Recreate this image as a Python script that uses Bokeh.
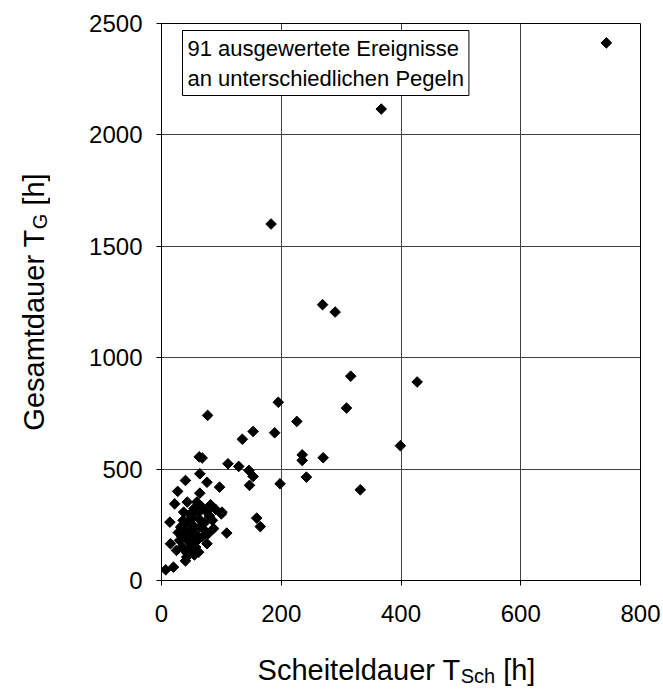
import numpy as np
from bokeh.plotting import figure
from bokeh.models import Range1d, Label
from bokeh.layouts import column, row
from bokeh.embed import file_html
from bokeh.resources import INLINE

# ---- data ----
t_sch = [743, 367, 183, 269, 290, 316, 427, 195, 309, 77,
         226, 153, 189, 135, 399, 235, 235, 270, 63, 68,
         111, 129, 146, 153, 242, 147, 198, 332, 64, 40,
         76, 97, 27, 64, 100, 109, 159, 165, 15, 7,
         20, 22, 43, 59, 82, 68, 101, 54, 37, 14,
         76, 40, 62, 87, 48, 30, 35, 42, 45, 50,
         55, 38, 60, 52, 45, 65, 70, 58, 33, 48,
         40, 62, 80, 72, 55, 44, 36, 28, 68, 50,
         57, 25, 75, 47, 64, 78, 42, 53, 85, 90, 32]
t_g = [2413, 2116, 1600, 1238, 1205, 917, 891, 800, 774, 741,
       714, 669, 663, 634, 605, 564, 539, 551, 555, 550,
       524, 512, 494, 467, 464, 427, 434, 407, 479, 449,
       441, 419, 400, 392, 299, 213, 280, 242, 165, 48,
       60, 344, 352, 352, 340, 329, 307, 322, 307, 262,
       165, 88, 127, 233, 190, 180, 150, 125, 210, 160,
       240, 230, 200, 280, 265, 270, 230, 175, 200, 140,
       250, 305, 290, 260, 115, 180, 270, 215, 195, 225,
       150, 135, 310, 295, 240, 210, 105, 200, 270, 320, 240]
x_ticks = [0, 200, 400, 600, 800]
y_ticks = [0, 500, 1000, 1500, 2000, 2500]
x_title = ["Scheiteldauer T", "Sch", "[h]"]
y_title = ["Gesamtdauer T", "G", "[h]"]
note = "91 ausgewertete Ereignisse\nan unterschiedlichen Pegeln"

FONT = "Liberation Sans"
# Arial advance widths (em) for width estimates of composed titles
W = {" ": .278, "[": .278, "]": .278, "S": .667, "G": .778, "T": .611,
     "a": .556, "c": .5, "d": .556, "e": .556, "h": .556, "i": .222,
     "l": .222, "m": .833, "r": .333, "s": .5, "t": .278, "u": .556}


def tw(s, fs):
    return sum(W.get(c, 0.556) for c in s) * fs


YW = 50            # width of the strip holding the y title
TOP_H = 23 + 557 + 55
XH = 691 - TOP_H   # height of the strip holding the x title

p = figure(frame_width=479, frame_height=557,
           x_range=Range1d(0, 800), y_range=Range1d(0, 2500),
           output_backend="svg", toolbar_location=None,
           min_border_left=161 - YW, min_border_top=23,
           min_border_right=23, min_border_bottom=55)

p.background_fill_color = "white"
p.border_fill_color = "white"
p.outline_line_color = "black"
p.outline_line_width = 1

p.xaxis.ticker = x_ticks
p.yaxis.ticker = y_ticks
for ax in (p.xaxis[0], p.yaxis[0]):
    ax.major_label_text_font = FONT
    ax.major_label_text_font_size = "24px"
    ax.major_label_text_color = "black"
    ax.axis_line_color = "black"
    ax.major_tick_line_color = "black"
    ax.major_tick_out = 5
    ax.major_tick_in = 0
    ax.minor_tick_out = 0
    ax.minor_tick_in = 0
p.xaxis.major_label_standoff = 19
p.yaxis.major_label_standoff = 14

p.xgrid.grid_line_color = "#404040"
p.ygrid.grid_line_color = "#404040"

p.scatter(t_sch, t_g, marker="square", angle=np.pi / 4, size=7.5,
          fill_color="black", line_color="black", line_width=1)

# annotation box
p.add_layout(Label(x=21, y=550, x_units="screen", y_units="screen", text=note,
                   text_font=FONT, text_font_size="22px", text_color="black",
                   text_align="left", text_baseline="top", text_line_height=1.2,
                   border_line_color="black", border_line_width=1,
                   background_fill_color="white", padding=5))


def strip(w, h):
    f = figure(width=w, height=h, x_range=Range1d(0, w), y_range=Range1d(0, h),
               x_axis_type=None, y_axis_type=None, output_backend="svg",
               toolbar_location=None, min_border=0)
    f.outline_line_color = None
    f.background_fill_color = "white"
    f.border_fill_color = "white"
    return f


FS, SS = 29, 20
sizes = [FS, SS, FS]
SP = W[" "] * FS   # gap before "[h]"

# x axis title (with subscript) in its own strip below the chart
px = strip(663, XH)
tot = tw(x_title[0], FS) + tw(x_title[1], SS) + SP + tw(x_title[2], FS)
x0 = 396 - tot / 2
xs = [x0, x0 + tw(x_title[0], FS), x0 + tw(x_title[0], FS) + tw(x_title[1], SS) + SP]
ys = [22, 16, 22]
for t, xx, yy, fs in zip(x_title, xs, ys, sizes):
    px.add_layout(Label(x=xx, y=yy, x_units="screen", y_units="screen", text=t,
                        text_font=FONT, text_font_size=f"{fs}px", text_color="black",
                        text_align="left", text_baseline="alphabetic"))

# y axis title (rotated, with subscript) in its own strip left of the chart
# (its frame is aligned with the main frame: 0 = bottom of plot area)
py = strip(YW, TOP_H)
tot = tw(y_title[0], FS) + tw(y_title[1], SS) + SP + tw(y_title[2], FS)
y0 = 557 / 2 - tot / 2
yy_list = [y0, y0 + tw(y_title[0], FS), y0 + tw(y_title[0], FS) + tw(y_title[1], SS) + SP]
xx_list = [33, 39, 33]
for t, xx, yy, fs in zip(y_title, xx_list, yy_list, sizes):
    py.add_layout(Label(x=xx, y=yy, x_units="screen", y_units="screen", text=t,
                        angle=np.pi / 2,
                        text_font=FONT, text_font_size=f"{fs}px", text_color="black",
                        text_align="left", text_baseline="alphabetic"))

layout = column(row(py, p, spacing=0), px, spacing=0)
open("out.html", "w").write(file_html(layout, INLINE))
